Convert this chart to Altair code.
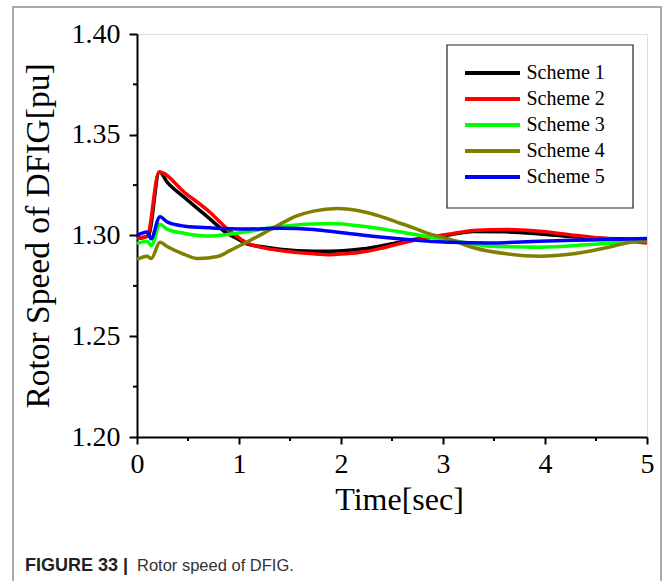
import altair as alt
import pandas as pd

# Rotor speed of the DFIG (pu) versus time (s) for five control schemes
schemes = ["Scheme 1", "Scheme 2", "Scheme 3", "Scheme 4", "Scheme 5"]
colors = ["#000000", "#ff0000", "#00ff00", "#808000", "#0000ff"]

t1 = [0, 0.11, 0.22, 0.30, 0.47, 0.72, 0.88, 0.96, 1.07, 1.23, 1.40, 1.73, 1.90,
      2.22, 2.38, 2.54, 2.71, 2.87, 3.07, 3.30, 3.62, 3.95, 4.28, 4.60, 5.00]
v1 = [1.2985, 1.2998, 1.3315, 1.3262, 1.3187, 1.3080, 1.3012, 1.2990, 1.2960,
      1.2944, 1.2932, 1.2922, 1.2922, 1.2934, 1.2947, 1.2963, 1.2980, 1.2992,
      1.3004, 1.3020, 1.3018, 1.3008, 1.2994, 1.2985, 1.2980]

t2 = [0, 0.10, 0.216, 0.47, 0.72, 0.88, 0.96, 1.07, 1.23, 1.40, 1.73, 1.90, 2.05,
      2.22, 2.38, 2.54, 2.71, 2.87, 3.07, 3.30, 3.62, 3.95, 4.28, 4.60, 5.00]
v2 = [1.2985, 1.2997, 1.3315, 1.3212, 1.3113, 1.3035, 1.3003, 1.2965, 1.2940,
      1.2926, 1.2909, 1.2905, 1.2909, 1.2919, 1.2935, 1.2955, 1.2975, 1.2992,
      1.3008, 1.3025, 1.3030, 1.3021, 1.3001, 1.2985, 1.2963]

t3 = [0, 0.10, 0.14, 0.225, 0.30, 0.47, 0.72, 0.96, 1.06, 1.40, 1.89, 2.22, 2.54,
      2.87, 3.07, 3.46, 3.95, 4.44, 5.00]
v3 = [1.2960, 1.2972, 1.2950, 1.3055, 1.3030, 1.3010, 1.2997, 1.3010, 1.3017,
      1.3045, 1.3060, 1.3046, 1.3021, 1.2992, 1.2978, 1.2947, 1.2942, 1.2955,
      1.2975]

t4 = [0, 0.10, 0.14, 0.225, 0.30, 0.47, 0.60, 0.80, 0.91, 1.06, 1.23, 1.40, 1.56,
      1.73, 1.96, 2.22, 2.38, 2.54, 2.71, 2.87, 3.07, 3.30, 3.62, 3.95, 4.28,
      4.60, 4.80, 5.00]
v4 = [1.2881, 1.2897, 1.2886, 1.2967, 1.2944, 1.2905, 1.2886, 1.2897, 1.2925,
      1.2963, 1.3008, 1.3055, 1.3096, 1.3121, 1.3134, 1.3118, 1.3096, 1.3068,
      1.3038, 1.3008, 1.2980, 1.2939, 1.2909, 1.2897, 1.2909, 1.2939, 1.2963,
      1.2975]

t5 = [0, 0.10, 0.137, 0.225, 0.30, 0.47, 0.72, 1.06, 1.40, 1.73, 1.89, 2.22,
      2.54, 2.87, 3.07, 3.46, 3.95, 4.44, 5.00]
v5 = [1.3000, 1.3017, 1.2984, 1.3093, 1.3066, 1.3046, 1.3038, 1.3032, 1.3036,
      1.3030, 1.3021, 1.3001, 1.2985, 1.2972, 1.2966, 1.2963, 1.2972, 1.2978,
      1.2985]

x_major = [0, 1, 2, 3, 4, 5]
x_minor = [0.5, 1.5, 2.5, 3.5, 4.5]
y_major = [1.20, 1.25, 1.30, 1.35, 1.40]
y_minor = [1.225, 1.275, 1.325, 1.375]

caption_bold = "FIGURE 33 |"
caption_text = "Rotor speed of DFIG."

W, H = 510, 403
SERIF = "Liberation Serif"

rows = []
for name, ts, vs in zip(schemes, [t1, t2, t3, t4, t5], [v1, v2, v3, v4, v5]):
    rows += [{"scheme": name, "t": t, "v": v} for t, v in zip(ts, vs)]
df = pd.DataFrame(rows)

x_scale = alt.Scale(domain=[0, 5], nice=False, zero=False)
y_scale = alt.Scale(domain=[1.20, 1.40], nice=False, zero=False)

x_axis = alt.Axis(values=x_major, format="d", title="Time[sec]", grid=False,
                  ticks=True, domainColor="black", domainWidth=2,
                  tickColor="black", tickWidth=2, tickSize=7, labelFont=SERIF,
                  labelFontSize=28, labelColor="black", labelPadding=6,
                  labelFlush=False, titleFont=SERIF, titleFontSize=32,
                  titleFontWeight="normal", titleColor="black", titlePadding=6,
                  titleX=262)
y_axis = alt.Axis(values=y_major, format=".2f", title="Rotor Speed of DFIG[pu]",
                  grid=False, ticks=True, domainColor="black", domainWidth=2,
                  tickColor="black", tickWidth=2, tickSize=8, labelFont=SERIF,
                  labelFontSize=28, labelColor="black", labelPadding=9,
                  labelFlush=False, titleFont=SERIF, titleFontSize=33.5,
                  titleFontWeight="normal", titleColor="black", titlePadding=16)

LEG_X, LEG_Y, LEG_W, LEG_H = 310, 11, 186, 163
legend = alt.Legend(
    orient="none", legendX=LEG_X, legendY=LEG_Y, title=None, padding=18,
    symbolType="M-5,0H5", symbolSize=121, symbolStrokeWidth=4,
    symbolOffset=17.5, labelOffset=24, labelFont=SERIF, labelFontSize=20,
    labelColor="black", rowPadding=6,
)

lines = alt.Chart(df).mark_line(strokeWidth=3.5, interpolate="monotone").encode(
    x=alt.X("t:Q", scale=x_scale, axis=x_axis),
    y=alt.Y("v:Q", scale=y_scale, axis=y_axis),
    color=alt.Color("scheme:N", scale=alt.Scale(domain=schemes, range=colors),
                    legend=legend),
    order=alt.Order("t:Q"),
)

# minor ticks on both axes
x_minor_ticks = alt.Chart(pd.DataFrame({"t": x_minor})).mark_rule(
    color="black", strokeWidth=2).encode(
    x=alt.X("t:Q", scale=x_scale), y=alt.value(H), y2=alt.value(H + 4))
y_minor_ticks = alt.Chart(pd.DataFrame({"v": y_minor})).mark_rule(
    color="black", strokeWidth=2).encode(
    y=alt.Y("v:Q", scale=y_scale), x=alt.value(-4), x2=alt.value(0))

one = pd.DataFrame({"k": [0]})
# border box behind the legend entries
legend_box = alt.Chart(one).mark_rect(
    fill="white", stroke="#222222", strokeWidth=1.2).encode(
    x=alt.value(LEG_X), x2=alt.value(LEG_X + LEG_W),
    y=alt.value(LEG_Y), y2=alt.value(LEG_Y + LEG_H))

# figure frame and caption
frame = alt.Chart(one).mark_rect(fill=None, stroke="#aaaaaa", strokeWidth=2).encode(
    x=alt.value(-124), x2=alt.value(524), y=alt.value(-27), y2=alt.value(H + 200))
cap1 = alt.Chart(one).mark_text(
    align="left", baseline="alphabetic", font="Liberation Sans", fontSize=18,
    fontWeight="bold", color="#222222").encode(
    x=alt.value(-112), y=alt.value(537), text=alt.value(caption_bold))
cap2 = alt.Chart(one).mark_text(
    align="left", baseline="alphabetic", font="Liberation Sans", fontSize=16.5,
    color="#333333").encode(
    x=alt.value(0), y=alt.value(537), text=alt.value(caption_text))

chart = alt.layer(frame, x_minor_ticks, y_minor_ticks, lines, legend_box,
                  cap1, cap2).properties(
    width=W, height=H,
    autosize=alt.AutoSizeParams(type="none"),
    padding={"left": 137, "top": 34, "right": 16, "bottom": 144},
).configure_view(stroke=None).configure(background="white")

chart.save("out.html", embed_options={"renderer": "svg", "actions": False})
